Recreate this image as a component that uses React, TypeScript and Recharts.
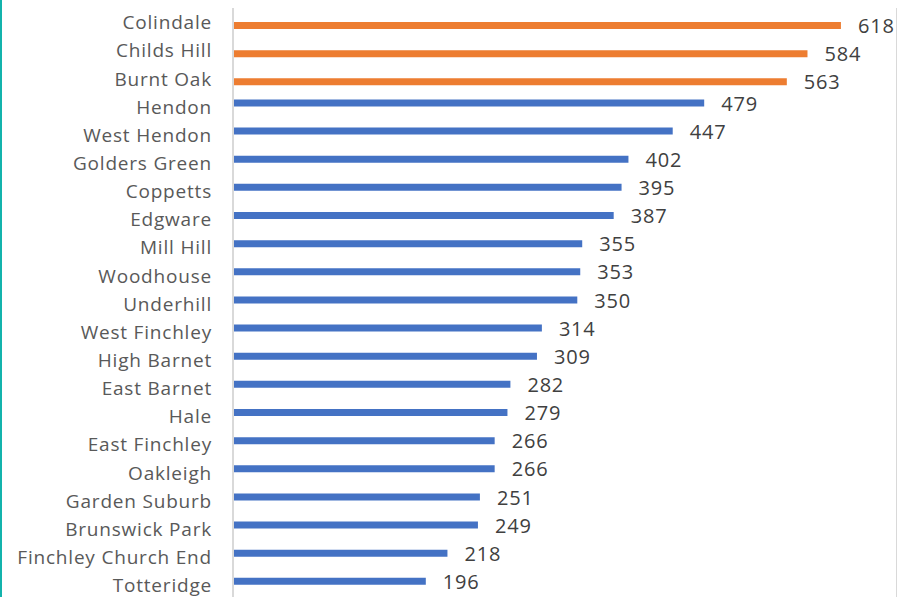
import React from 'react';
import { BarChart, Bar, XAxis, YAxis, CartesianGrid, LabelList } from 'recharts';

const wards = [
  'Colindale', 'Childs Hill', 'Burnt Oak', 'Hendon', 'West Hendon', 'Golders Green', 'Coppetts',
  'Edgware', 'Mill Hill', 'Woodhouse', 'Underhill', 'West Finchley', 'High Barnet', 'East Barnet',
  'Hale', 'East Finchley', 'Oakleigh', 'Garden Suburb', 'Brunswick Park', 'Finchley Church End', 'Totteridge',
];
const highlighted = [618, 584, 563, null, null, null, null, null, null, null, null, null, null, null, null, null, null, null, null, null, null];
const others = [null, null, null, 479, 447, 402, 395, 387, 355, 353, 350, 314, 309, 282, 279, 266, 266, 251, 249, 218, 196];
const xTicks = [0, 100, 200, 300, 400, 500, 600];

const data = wards.map((ward, i) => ({ ward, top: highlighted[i], rest: others[i] }));

const FONT = '"Open Sans", sans-serif';

const ValueLabel = (props: any) => {
  const { x, y, width, height, value } = props;
  if (value === null || value === undefined) return null;
  return (
    <text x={x + width + 17} y={y + height / 2} dy="0.38em" fill="#404040" fontSize={20} letterSpacing={0.8} fontFamily={FONT} textAnchor="start">
      {value}
    </text>
  );
};

const WardTick = (props: any) => {
  const { x, y, payload } = props;
  return (
    <text x={x} y={y} dy="0.38em" fill="#595959" fontSize={19} letterSpacing={0.8} fontFamily={FONT} textAnchor="end">
      {payload.value}
    </text>
  );
};

export default function App() {
  return (
    <div style={{ position: 'absolute', left: 0, top: 0, width: 897, height: 597, overflow: 'hidden', background: '#fff' }}>
      <div style={{ position: 'absolute', left: 0, top: 0, width: 2, height: 597, background: '#13B3AC' }} />
      <BarChart
        width={897}
        height={600}
        data={data}
        layout="vertical"
        margin={{ top: 8, right: 0, bottom: 1, left: 0 }}
        barSize={7}
        barGap={0}
      >
        <CartesianGrid horizontal={false} stroke="#D9D9D9" strokeWidth={2} />
        <XAxis type="number" domain={[0, 675]} ticks={xTicks} tick={false} axisLine={false} tickLine={false} height={0} allowDataOverflow />
        <YAxis
          type="category"
          dataKey="ward"
          width={233}
          axisLine={{ stroke: '#D9D9D9', strokeWidth: 2 }}
          tickLine={false}
          tickMargin={15}
          interval={0}
          tick={WardTick}
        />
        <Bar dataKey="rest" fill="#4472C4" isAnimationActive={false}>
          <LabelList dataKey="rest" content={ValueLabel} />
        </Bar>
        <Bar dataKey="top" fill="#ED7D31" isAnimationActive={false}>
          <LabelList dataKey="top" content={ValueLabel} />
        </Bar>
      </BarChart>
    </div>
  );
}
